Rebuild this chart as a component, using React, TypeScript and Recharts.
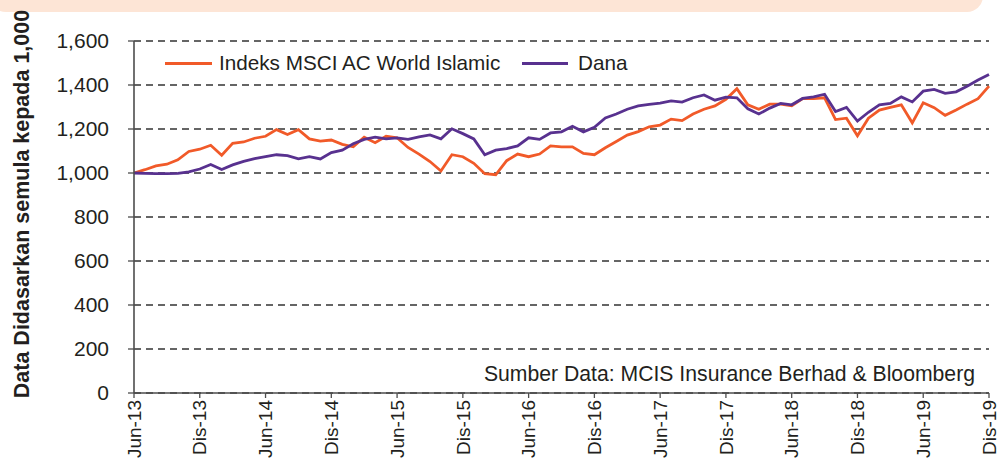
import React from 'react';
import { LineChart, Line, XAxis, YAxis, CartesianGrid } from 'recharts';

const monthNames = ['Jun', 'Jul', 'Ogos', 'Sep', 'Okt', 'Nov', 'Dis', 'Jan', 'Feb', 'Mac', 'Apr', 'Mei'];
const startYear = 13;
const monthCount = 79;

const indexValues = [
  1000, 1015, 1032, 1040, 1060, 1098, 1108, 1126, 1081, 1135,
  1141, 1158, 1167, 1197, 1175, 1197, 1155, 1145, 1150, 1130,
  1119, 1163, 1138, 1167, 1160, 1116, 1086, 1052, 1009, 1083,
  1074, 1044, 997, 992, 1056, 1086, 1074, 1086, 1123, 1119,
  1119, 1089, 1083, 1115, 1143, 1172, 1188, 1210, 1218, 1245,
  1238, 1268, 1290, 1305, 1335, 1383, 1310, 1290, 1313, 1313,
  1306, 1338, 1338, 1342, 1243, 1249, 1169, 1249, 1286, 1298,
  1310, 1228, 1319, 1297, 1262, 1286, 1313, 1338, 1395,
];

const fundValues = [
  1000, 998, 997, 997, 998, 1005, 1018, 1039, 1016, 1037,
  1053, 1065, 1074, 1083, 1079, 1064, 1074, 1064, 1093, 1104,
  1133, 1153, 1163, 1155, 1160, 1153, 1164, 1173, 1155, 1201,
  1179, 1155, 1083, 1104, 1111, 1123, 1160, 1153, 1182, 1187,
  1212, 1187, 1208, 1250, 1268, 1290, 1305, 1312, 1318, 1328,
  1322, 1342, 1355, 1331, 1345, 1342, 1292, 1268, 1295, 1316,
  1310, 1339, 1346, 1358, 1279, 1298, 1236, 1276, 1310, 1316,
  1346, 1323, 1372, 1380, 1362, 1369, 1394, 1423, 1448,
];

const yTicks = [0, 200, 400, 600, 800, 1000, 1200, 1400, 1600];

const categories: string[] = [];
for (let i = 0; i < monthCount; i++) {
  const mi = i % 12;
  const yr = startYear + Math.floor((i + 5) / 12);
  categories.push(`${monthNames[mi]}-${yr}`);
}

const data = categories.map((m, i) => ({ m, idx: indexValues[i], fund: fundValues[i] }));

const FONT = '"Liberation Sans", Arial, Helvetica, sans-serif';
const TEXT = '#231f20';
const AXIS = '#4d4d4d';
const ORANGE = '#f15a29';
const PURPLE = '#58318f';

function XTick(props: any) {
  const { x, y, payload } = props;
  return (
    <g transform={`translate(${x},${y})`}>
      <text transform="rotate(-90)" textAnchor="end" dy="0.35em" fontSize={19} fill={TEXT} fontFamily={FONT}>
        {payload.value}
      </text>
    </g>
  );
}

export default function App() {
  return (
    <div style={{ position: 'absolute', left: 0, top: 0, width: 999, height: 464, overflow: 'hidden', background: '#fff', fontFamily: FONT }}>
      <div style={{ position: 'absolute', left: -10, top: -30, width: 993, height: 42, borderRadius: 16, background: '#fde5d6' }} />
      <LineChart width={999} height={464} data={data} margin={{ top: 41, right: 10, bottom: 7, left: 0 }}>
        <CartesianGrid vertical={false} stroke="#333333" strokeDasharray="7 5" strokeWidth={1.3} />
        <XAxis
          dataKey="m"
          interval={5}
          height={64}
          tickSize={5}
          tick={<XTick />}
          axisLine={{ stroke: AXIS, strokeWidth: 1.6 }}
          tickLine={{ stroke: AXIS, strokeWidth: 1.3 }}
        />
        <XAxis xAxisId="top" orientation="top" dataKey="m" height={0} tick={false} tickLine={false} axisLine={{ stroke: AXIS, strokeWidth: 1.6 }} />
        <YAxis
          width={134}
          domain={[0, 1600]}
          ticks={yTicks}
          tickSize={6}
          tickMargin={19}
          tickFormatter={(v: number) => v.toLocaleString('en-US')}
          tick={{ fontSize: 21, fill: TEXT, fontFamily: FONT }}
          axisLine={{ stroke: AXIS, strokeWidth: 1.6 }}
          tickLine={{ stroke: AXIS, strokeWidth: 1.3 }}
        />
        <YAxis yAxisId="right" orientation="right" width={0} domain={[0, 1600]} tick={false} tickLine={false} axisLine={{ stroke: AXIS, strokeWidth: 1.6 }} />
        <Line type="linear" dataKey="idx" stroke={ORANGE} strokeWidth={2.8} dot={false} isAnimationActive={false} />
        <Line type="linear" dataKey="fund" stroke={PURPLE} strokeWidth={2.8} dot={false} isAnimationActive={false} />
      </LineChart>

      <div style={{ position: 'absolute', left: 22, top: 204, transform: 'translate(-50%, -50%) rotate(-90deg)', whiteSpace: 'nowrap', fontWeight: 'bold', fontSize: 21.5, color: TEXT }}>
        Data Didasarkan semula kepada 1,000
      </div>

      <div style={{ position: 'absolute', left: 165, top: 62, width: 47, height: 3, background: ORANGE }} />
      <div style={{ position: 'absolute', left: 219, top: 51, fontSize: 20.7, lineHeight: '24px', color: TEXT, whiteSpace: 'nowrap' }}>
        Indeks MSCI AC World Islamic
      </div>
      <div style={{ position: 'absolute', left: 522, top: 62, width: 46, height: 3, background: PURPLE }} />
      <div style={{ position: 'absolute', left: 578, top: 51, fontSize: 20.7, lineHeight: '24px', color: TEXT, whiteSpace: 'nowrap' }}>
        Dana
      </div>

      <div style={{ position: 'absolute', right: 24, top: 362, fontSize: 21.2, lineHeight: '24px', color: TEXT, whiteSpace: 'nowrap' }}>
        Sumber Data: MCIS Insurance Berhad &amp; Bloomberg
      </div>
    </div>
  );
}
